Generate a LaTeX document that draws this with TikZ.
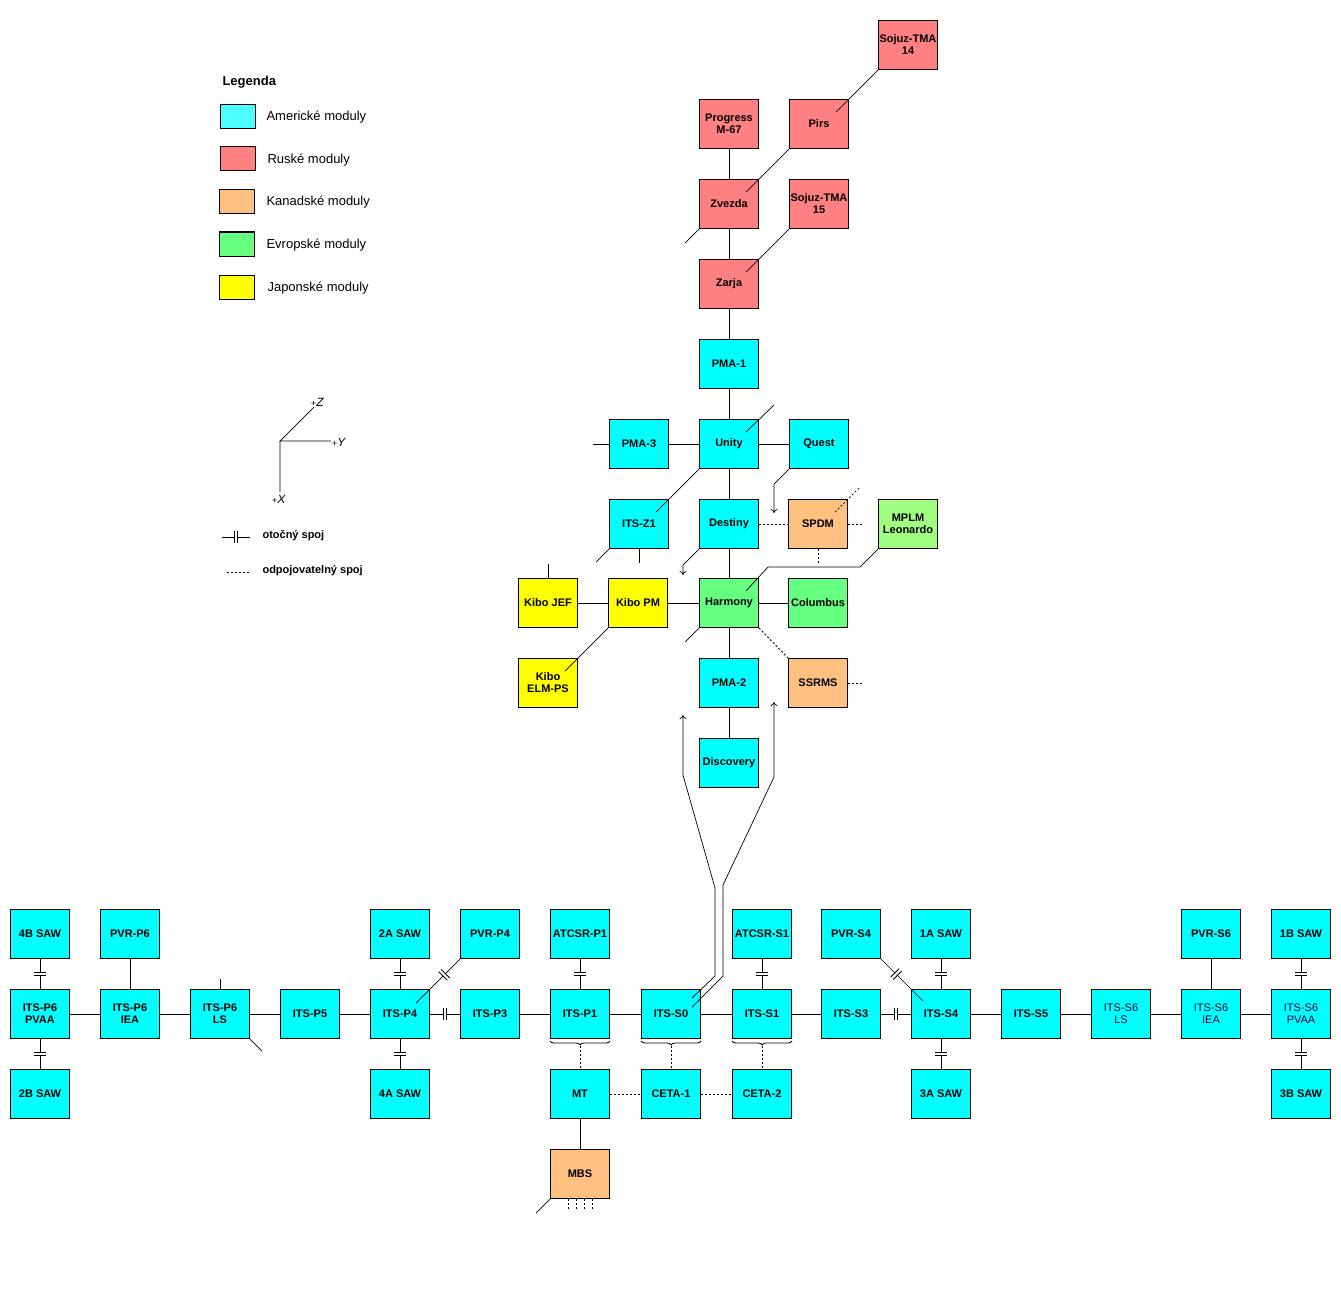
\documentclass[tikz,border=0pt]{standalone}
\usepackage{fontspec}
\setmainfont{Liberation Sans}
\usetikzlibrary{arrows.meta,decorations.pathreplacing}
\definecolor{amer}{HTML}{00FFFF}
\definecolor{amerleg}{HTML}{4CFFFF}
\definecolor{rusk}{HTML}{FF8080}
\definecolor{kanad}{HTML}{FFC080}
\definecolor{evrop}{HTML}{66FF80}
\definecolor{mplmcol}{HTML}{A0FF80}
\definecolor{japon}{HTML}{FFFF00}

\begin{document}
\begin{tikzpicture}[x=1pt,y=-1pt,
		mod/.style={draw, line width=1pt, minimum width=59pt, minimum height=49pt, inner sep=0.5pt, align=center, font=\fontsize{11}{12}\selectfont\bfseries},
		am/.style={mod, fill=amer},
		amt/.style={am, font=\fontsize{11}{12}\selectfont, text=black!80!blue},
		ru/.style={mod, fill=rusk},
		ka/.style={mod, fill=kanad},
		ev/.style={mod, fill=evrop},
		ja/.style={mod, fill=japon},
		swatch/.style={draw, line width=1pt, minimum width=35pt, minimum height=24pt, inner sep=0pt},
		legtext/.style={anchor=west, font=\fontsize{13}{15}\selectfont},
		legbold/.style={anchor=west, font=\fontsize{11}{13}\selectfont\bfseries},
		axl/.style={anchor=west, inner sep=0pt, font=\fontsize{12}{12}\selectfont\itshape},
		link/.style={line width=0.9pt},
		diag/.style={line width=0.7pt},
		tip/.style={-{To[length=4pt,width=7pt]}},
		loose/.style={line width=0.9pt, dash pattern=on 2pt off 2pt},
		brc/.style={decorate, decoration={brace, mirror, amplitude=4pt}, line width=0.8pt},
		joint/.pic={\fill[white] (-1.7,-6) rectangle (1.7,6);
			\draw[line width=0.9pt] (-1.7,-6) -- (-1.7,6) (1.7,-6) -- (1.7,6);}]
	\useasboundingbox (0,0) rectangle (1341,1300);

	% legenda
	\node[anchor=west, font=\fontsize{13}{15}\selectfont\bfseries] (legenda) at (219,82) {Legenda};
	\node[swatch, fill=amerleg] (sw1) at (237.5,117) {};
	\node[legtext] (lt1) at (263,117) {Americké moduly};
	\node[swatch, fill=rusk] (sw2) at (237.5,159) {};
	\node[legtext] (lt2) at (264,160) {Ruské moduly};
	\node[swatch, fill=kanad] (sw3) at (236.5,202) {};
	\node[legtext] (lt3) at (263,202) {Kanadské moduly};
	\node[swatch, fill=evrop] (sw4) at (236.5,244) {};
	\node[legtext] (lt4) at (263,245) {Evropské moduly};
	\node[swatch, fill=japon] (sw5) at (236.5,287) {};
	\node[legtext] (lt5) at (264,288) {Japonské moduly};

	% osy
	\coordinate (o) at (280,441);
	\coordinate (oz) at (314,407);
	\coordinate (oy) at (331,441);
	\coordinate (ox) at (280,492);
	\draw[diag] (oz) -- (o) -- (oy) (o) -- (ox);
	\node[axl] (zl) at (311,402) {{\upshape\fontsize{9}{9}\selectfont+}Z};
	\node[axl] (yl) at (332,442) {{\upshape\fontsize{9}{9}\selectfont+}Y};
	\node[axl] (xl) at (272,499) {{\upshape\fontsize{9}{9}\selectfont+}X};

	% spoje v legende
	\coordinate (j1) at (222,537);
	\coordinate (j2) at (250,537);
	\draw[link] (j1) -- pic{joint} (j2);
	\node[legbold] (ls1) at (259,536) {otočný spoj};
	\coordinate (d1) at (227,572);
	\coordinate (d2) at (249,572);
	\draw[loose] (d1) -- (d2);
	\node[legbold] (ls2) at (259,571) {odpojovatelný spoj};

	% ruske moduly
	\node[ru] (soj14) at (908,45) {Sojuz-TMA\\14};
	\node[ru] (progress) at (729,124) {Progress\\M-67};
	\node[ru] (pirs) at (819,124) {Pirs};
	\node[ru] (zvezda) at (729,204) {Zvezda};
	\node[ru] (soj15) at (819,204) {Sojuz-TMA\\15};
	\node[ru] (zarja) at (729,284) {Zarja};

	% americke, evropske, japonske
	\node[am] (pma1) at (729,364) {PMA-1};
	\node[am] (pma3) at (639,444) {PMA-3};
	\node[am] (unity) at (729,444) {Unity};
	\node[am] (quest) at (819,444) {Quest};
	\node[am] (z1) at (639,524) {ITS-Z1};
	\node[am] (destiny) at (729,524) {Destiny};
	\node[ka] (spdm) at (818,524) {SPDM};
	\node[mod, fill=mplmcol] (mplm) at (908,524) {MPLM\\Leonardo};
	\node[ja] (jef) at (548,603) {Kibo JEF};
	\node[ja] (kibopm) at (638,603) {Kibo PM};
	\node[ev] (harmony) at (729,603) {Harmony};
	\node[ev] (columbus) at (818,603) {Columbus};
	\node[ja] (elm) at (548,683) {Kibo\\ELM-PS};
	\node[am] (pma2) at (729,683) {PMA-2};
	\node[ka] (ssrms) at (818,683) {SSRMS};
	\node[am] (discovery) at (729,763) {Discovery};

	\draw[link] (progress) -- (zvezda) -- (zarja) -- (pma1) -- (unity) -- (destiny) -- (harmony) -- (pma2) -- (discovery);
	\draw[link] (pma3) -- (unity) -- (quest);
	\draw[link] (jef) -- (kibopm) -- (harmony) -- (columbus);
	\draw[link] (pma3.west) -- ++(-16,0);
	\draw[link] (jef.north) -- ++(0,-14);
	\draw[link] (z1.south) -- ++(0,14);
	\draw[loose] (destiny) -- (spdm);
	\draw[loose] (spdm.east) -- ++(14,0);
	\draw[loose] (spdm.south) -- ++(0,15);
	\draw[loose] (ssrms.east) -- ++(14,0);
	\draw[loose] (harmony.south east) -- (ssrms.north west);

	\draw[diag] (soj14.south west) -- ([shift={(-13,13)}]pirs.north east);
	\draw[diag] (pirs.south west) -- ([shift={(-13,13)}]zvezda.north east);
	\draw[diag] (soj15.south west) -- ([shift={(-13,13)}]zarja.north east);
	\draw[diag] (zvezda.south west) -- ++(-14,14);
	\draw[diag] ([shift={(-13,13)}]unity.north east) -- ++(28,-27);
	\draw[diag] (unity.south west) -- ([shift={(-13,13)}]z1.north east);
	\draw[diag] (z1.south west) -- ++(-13,13);
	\draw[diag,tip] (quest.south west) -- ++(-15,15) -- ++(0,29);
	\draw[loose, line width=0.7pt] ([shift={(-13,13)}]spdm.north east) -- ++(25,-25);
	\draw[diag] (mplm.south west) -- ++(-18,18) -- ++(-92,0) -- ([shift={(-13,13)}]harmony.north east);
	\draw[diag,tip] (destiny.south west) -- ++(-16,16) -- ++(0,10);
	\draw[diag] (kibopm.south west) -- ([shift={(-13,13)}]elm.north east);
	\draw[diag] (harmony.south west) -- ++(-14,14);

	% prihradovy nosnik
	\node[am] (p6pvaa) at (40,1014) {ITS-P6\\PVAA};
	\node[am] (p6iea) at (130,1014) {ITS-P6\\IEA};
	\node[am] (p6ls) at (220,1014) {ITS-P6\\LS};
	\node[am] (p5) at (310,1014) {ITS-P5};
	\node[am] (p4) at (400,1014) {ITS-P4};
	\node[am] (p3) at (490,1014) {ITS-P3};
	\node[am] (p1) at (580,1014) {ITS-P1};
	\node[am] (s0) at (671,1014) {ITS-S0};
	\node[am] (s1) at (762,1014) {ITS-S1};
	\node[am] (s3) at (851,1014) {ITS-S3};
	\node[am] (s4) at (941,1014) {ITS-S4};
	\node[am] (s5) at (1031,1014) {ITS-S5};
	\node[amt] (s6ls) at (1121,1014) {ITS-S6\\LS};
	\node[amt] (s6iea) at (1211,1014) {ITS-S6\\IEA};
	\node[amt] (s6pvaa) at (1301,1014) {ITS-S6\\PVAA};

	\node[am] (saw4b) at (40,934) {4B SAW};
	\node[am] (pvrp6) at (130,934) {PVR-P6};
	\node[am] (saw2a) at (400,934) {2A SAW};
	\node[am] (pvrp4) at (490,934) {PVR-P4};
	\node[am] (atcsrp1) at (580,934) {ATCSR-P1};
	\node[am] (atcsrs1) at (762,934) {ATCSR-S1};
	\node[am] (pvrs4) at (851,934) {PVR-S4};
	\node[am] (saw1a) at (941,934) {1A SAW};
	\node[am] (pvrs6) at (1211,934) {PVR-S6};
	\node[am] (saw1b) at (1301,934) {1B SAW};

	\node[am] (saw2b) at (40,1094) {2B SAW};
	\node[am] (saw4a) at (400,1094) {4A SAW};
	\node[am] (mt) at (580,1094) {MT};
	\node[am] (ceta1) at (671,1094) {CETA-1};
	\node[am] (ceta2) at (762,1094) {CETA-2};
	\node[am] (saw3a) at (941,1094) {3A SAW};
	\node[am] (saw3b) at (1301,1094) {3B SAW};
	\node[ka] (mbs) at (580,1174) {MBS};

	\draw[link] (p6pvaa) -- (p6iea) -- (p6ls) -- (p5) -- (p4);
	\draw[link] (p4) -- pic{joint} (p3);
	\draw[link] (p3) -- (p1) -- (s0) -- (s1) -- (s3);
	\draw[link] (s3) -- pic{joint} (s4);
	\draw[link] (s4) -- (s5) -- (s6ls) -- (s6iea) -- (s6pvaa);

	\draw[link] (saw4b) -- pic[sloped]{joint} (p6pvaa);
	\draw[link] (p6pvaa) -- pic[sloped]{joint} (saw2b);
	\draw[link] (pvrp6) -- (p6iea);
	\draw[link] (p6ls.north) -- ++(0,-10);
	\draw[diag] (p6ls.south east) -- ++(12,12);
	\draw[link] (saw2a) -- pic[sloped]{joint} (p4);
	\draw[link] (p4) -- pic[sloped]{joint} (saw4a);
	\draw[diag] (pvrp4.south west) -- pic[pos=0.36,sloped]{joint} ([shift={(-14,14)}]p4.north east);
	\draw[link] (atcsrp1) -- pic[sloped]{joint} (p1);
	\draw[link] (atcsrs1) -- pic[sloped]{joint} (s1);
	\draw[diag] (pvrs4.south east) -- pic[pos=0.36,sloped]{joint} ([shift={(12,12)}]s4.north west);
	\draw[link] (saw1a) -- pic[sloped]{joint} (s4);
	\draw[link] (s4) -- pic[sloped]{joint} (saw3a);
	\draw[link] (pvrs6) -- (s6iea);
	\draw[link] (saw1b) -- pic[sloped]{joint} (s6pvaa);
	\draw[link] (s6pvaa) -- pic[sloped]{joint} (saw3b);

	% mobilni system
	\draw[brc] ([yshift=-2pt]p1.south west) -- ([yshift=-2pt]p1.south east);
	\draw[brc] ([yshift=-2pt]s0.south west) -- ([yshift=-2pt]s0.south east);
	\draw[brc] ([yshift=-2pt]s1.south west) -- ([yshift=-2pt]s1.south east);
	\draw[loose] ([yshift=-7pt]p1.south) -- (mt);
	\draw[loose] ([yshift=-7pt]s0.south) -- (ceta1);
	\draw[loose] ([yshift=-7pt]s1.south) -- (ceta2);
	\draw[loose] (mt) -- (ceta1) -- (ceta2);
	\draw[link] (mt) -- (mbs);
	\draw[diag] (mbs.south west) -- ++(-14,14);
	\foreach \d in {-12,-4,4,12}
		\draw[loose] ([xshift=\d pt]mbs.south) -- ++(0,11);

	% raketoplan
	\draw[diag,tip] ([shift={(-9,9)}]s0.north east) -- ++(23,-22) -- ++(0,-88) -- ++(-32,-113) -- ++(0,-60);
	\draw[diag,tip] ([shift={(-9,18)}]s0.north east) -- ++(31,-31) -- ++(0,-91) -- ++(51,-108) -- ++(0,-75);
\end{tikzpicture}
\end{document}
